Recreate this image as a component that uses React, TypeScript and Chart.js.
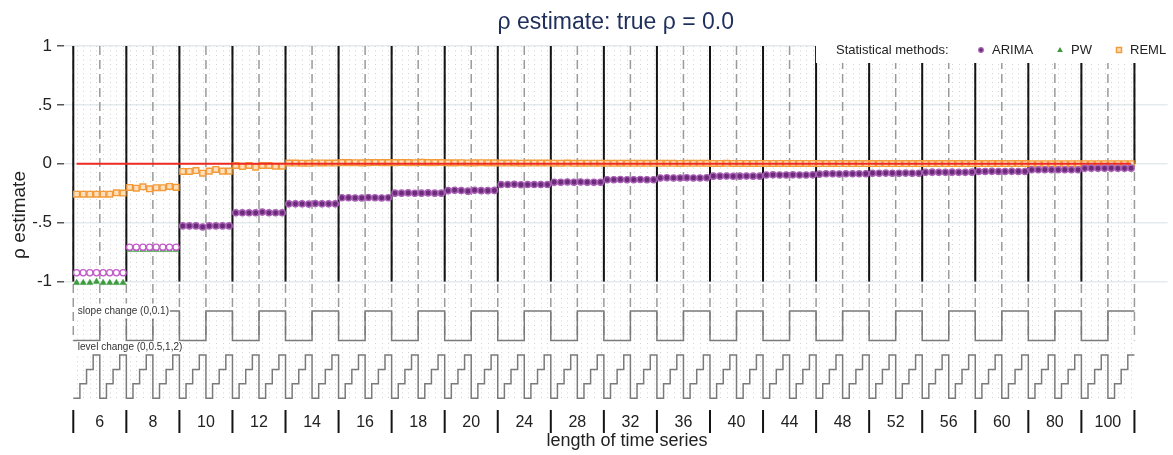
import React, { useEffect, useRef } from 'react';
import { Chart, registerables } from 'chart.js';

Chart.register(...registerables);

// ---------------- data ----------------
const groupSizes = [6, 8, 10, 12, 14, 16, 18, 20, 24, 28, 32, 36, 40, 44, 48, 52, 56, 60, 80, 100];
const levelChanges = [0, 0.5, 1, 2];
const slopeChanges = [0, 0.1];
const trueRho = 0.0;
const yTickValues = [-1, -0.5, 0, 0.5, 1];
const yTickLabels = ['-1', '-.5', '0', '.5', '1'];
const methodNames = ['ARIMA', 'PW', 'REML'];

const arimaByGroup = [
  [-0.925, -0.925, -0.925, -0.925, -0.925, -0.925, -0.925, -0.925],
  [-0.708, -0.708, -0.708, -0.708, -0.708, -0.708, -0.708, -0.708],
  [-0.527, -0.527, -0.527, -0.536, -0.527, -0.527, -0.527, -0.527],
  [-0.416, -0.416, -0.416, -0.416, -0.41, -0.416, -0.416, -0.416],
  [-0.34, -0.34, -0.34, -0.342, -0.338, -0.34, -0.34, -0.34],
  [-0.288, -0.288, -0.29, -0.29, -0.286, -0.288, -0.29, -0.288],
  [-0.249, -0.249, -0.247, -0.25, -0.249, -0.247, -0.249, -0.249],
  [-0.228, -0.224, -0.227, -0.232, -0.224, -0.228, -0.228, -0.226],
  [-0.176, -0.176, -0.174, -0.178, -0.176, -0.176, -0.176, -0.176],
  [-0.156, -0.156, -0.154, -0.156, -0.154, -0.156, -0.156, -0.156],
  [-0.135, -0.135, -0.133, -0.135, -0.135, -0.133, -0.135, -0.135],
  [-0.12, -0.118, -0.12, -0.12, -0.118, -0.12, -0.12, -0.118],
  [-0.105, -0.105, -0.104, -0.106, -0.105, -0.104, -0.105, -0.105],
  [-0.095, -0.094, -0.095, -0.095, -0.094, -0.095, -0.095, -0.094],
  [-0.088, -0.085, -0.085, -0.086, -0.085, -0.085, -0.085, -0.084],
  [-0.08, -0.08, -0.079, -0.08, -0.08, -0.079, -0.08, -0.08],
  [-0.072, -0.071, -0.072, -0.072, -0.071, -0.072, -0.072, -0.071],
  [-0.065, -0.065, -0.064, -0.065, -0.065, -0.064, -0.065, -0.065],
  [-0.051, -0.051, -0.05, -0.051, -0.051, -0.05, -0.051, -0.051],
  [-0.038, -0.037, -0.038, -0.038, -0.037, -0.038, -0.038, -0.037],
];

// PW is only distinguishable from ARIMA for n = 6 and n = 8
const pwByGroup = [
  [-1.01, -1.01, -1.01, -1.0, -1.01, -1.01, -1.01, -1.01],
  [-0.73, -0.73, -0.73, -0.73, -0.73, -0.73, -0.73, -0.73],
];

const remlByGroup = [
  [-0.258, -0.258, -0.258, -0.258, -0.258, -0.258, -0.246, -0.248],
  [-0.201, -0.207, -0.195, -0.212, -0.203, -0.203, -0.192, -0.2],
  [-0.065, -0.065, -0.057, -0.08, -0.062, -0.048, -0.062, -0.062],
  [-0.014, -0.022, -0.014, -0.028, -0.014, -0.014, -0.02, -0.02],
  [0.006, 0.006, 0.005, 0.004, 0.006, 0.007, 0.006, 0.006],
  [0.01, 0.01, 0.009, 0.008, 0.01, 0.011, 0.01, 0.01],
  [0.01, 0.011, 0.01, 0.009, 0.012, 0.01, 0.01, 0.011],
  [0.008, 0.008, 0.009, 0.007, 0.008, 0.009, 0.008, 0.008],
  [0.006, 0.006, 0.007, 0.005, 0.006, 0.006, 0.006, 0.006],
  [0.005, 0.005, 0.006, 0.004, 0.005, 0.005, 0.005, 0.005],
  [0.004, 0.004, 0.005, 0.004, 0.004, 0.004, 0.004, 0.004],
  [0.004, 0.004, 0.004, 0.003, 0.004, 0.004, 0.004, 0.004],
  [0.003, 0.003, 0.004, 0.003, 0.003, 0.003, 0.003, 0.003],
  [0.003, 0.003, 0.003, 0.003, 0.003, 0.003, 0.003, 0.003],
  [0.002, 0.002, 0.003, 0.002, 0.002, 0.002, 0.002, 0.002],
  [0.002, 0.002, 0.002, 0.002, 0.002, 0.002, 0.002, 0.002],
  [0.002, 0.002, 0.002, 0.002, 0.002, 0.002, 0.002, 0.002],
  [0.002, 0.002, 0.002, 0.002, 0.002, 0.002, 0.002, 0.002],
  [0.001, 0.001, 0.001, 0.001, 0.001, 0.001, 0.001, 0.001],
  [0.001, 0.001, 0.001, 0.001, 0.001, 0.001, 0.001, 0.001],
];

// ---------------- derived ----------------
const perGroup = levelChanges.length * slopeChanges.length; // 8
const nPoints = groupSizes.length * perGroup; // 160

// schematic bands below the estimate panel (y-units of the panel)
const slopeBand = { low: -1.5, high: -1.25 };
const levelBand = { base: -1.99, step: 0.1222 };

const toPoints = (groups: (number | null)[][]) => {
  const pts: { x: number; y: number | null }[] = [];
  for (let g = 0; g < groupSizes.length; g++) {
    const row = groups[g];
    for (let k = 0; k < perGroup; k++) {
      pts.push({ x: g * perGroup + k + 0.5, y: row ? row[k] : null });
    }
  }
  return pts;
};

const slopeIndex = (i: number) => Math.floor(i / levelChanges.length) % slopeChanges.length;
const levelIndex = (i: number) => i % levelChanges.length;

const slopeSteps = () => {
  const pts: { x: number; y: number }[] = [];
  for (let i = 0; i < nPoints; i++) {
    const s = slopeChanges[slopeIndex(i)] > 0 ? slopeBand.high : slopeBand.low;
    pts.push({ x: i, y: s });
  }
  pts.push({ x: nPoints, y: pts[pts.length - 1].y });
  return pts;
};
const levelSteps = () => {
  const pts: { x: number; y: number }[] = [];
  for (let i = 0; i < nPoints; i++) {
    pts.push({ x: i, y: levelBand.base + levelIndex(i) * levelBand.step });
  }
  pts.push({ x: nPoints, y: pts[pts.length - 1].y });
  return pts;
};

const FONT = "'Liberation Sans', Arial, Helvetica, sans-serif";
const COLORS = {
  arimaRing: '#c25cc8',
  arimaFill: '#6c2b7a',
  arimaEdge: '#a860b4',
  pw: '#3a9a3c',
  reml: '#f39a3a',
  remlFill: '#fde0bd',
  red: '#ee2a22',
  schematic: '#7a7a7a',
};

const drawMarker = (ctx: CanvasRenderingContext2D, kind: string, x: number, y: number) => {
  ctx.save();
  ctx.setLineDash([]);
  if (kind === 'ARIMA') {
    ctx.beginPath();
    ctx.arc(x, y, 2.3, 0, Math.PI * 2);
    ctx.fillStyle = COLORS.arimaFill;
    ctx.strokeStyle = COLORS.arimaEdge;
    ctx.lineWidth = 1.2;
    ctx.fill();
    ctx.stroke();
  } else if (kind === 'PW') {
    ctx.beginPath();
    ctx.moveTo(x, y - 3);
    ctx.lineTo(x + 2.8, y + 2);
    ctx.lineTo(x - 2.8, y + 2);
    ctx.closePath();
    ctx.fillStyle = COLORS.pw;
    ctx.fill();
  } else {
    ctx.fillStyle = COLORS.remlFill;
    ctx.strokeStyle = COLORS.reml;
    ctx.lineWidth = 1.5;
    ctx.fillRect(x - 2.5, y - 2.5, 5, 5);
    ctx.strokeRect(x - 2.5, y - 2.5, 5, 5);
  }
  ctx.restore();
};

const overlayPlugin = {
  id: 'overlay',
  beforeDatasetsDraw(chart: any) {
    const { ctx, chartArea } = chart;
    const x = chart.scales.x;
    const y = chart.scales.y;
    const top = y.getPixelForValue(1);
    ctx.save();
    // dotted lines at every condition
    ctx.strokeStyle = '#d2d2d2';
    ctx.lineWidth = 1;
    ctx.setLineDash([1, 3.5]);
    for (let i = 0; i < nPoints; i++) {
      const px = Math.round(x.getPixelForValue(i + 0.5)) + 0.5;
      ctx.beginPath();
      ctx.moveTo(px, top);
      ctx.lineTo(px, chartArea.bottom);
      ctx.stroke();
    }
    // dashed lines at every half group
    ctx.strokeStyle = '#9a9a9a';
    ctx.lineWidth = 1.5;
    ctx.setLineDash([9, 5]);
    for (let i = 0; i <= nPoints; i += levelChanges.length) {
      const px = x.getPixelForValue(i);
      ctx.beginPath();
      ctx.moveTo(px, top);
      ctx.lineTo(px, y.getPixelForValue(slopeBand.low));
      ctx.stroke();
    }
    // solid black group separators
    ctx.setLineDash([]);
    ctx.strokeStyle = '#141414';
    ctx.lineWidth = 2;
    for (let i = 0; i <= nPoints; i += perGroup) {
      const px = x.getPixelForValue(i);
      ctx.beginPath();
      ctx.moveTo(px, top);
      ctx.lineTo(px, y.getPixelForValue(i === nPoints ? 0 : -1));
      ctx.stroke();
    }
    ctx.restore();
  },
  afterDatasetsDraw(chart: any) {
    const { ctx } = chart;
    const x = chart.scales.x;
    const y = chart.scales.y;
    ctx.save();
    // schematic labels
    ctx.font = `10px ${FONT}`;
    ctx.textBaseline = 'middle';
    ctx.textAlign = 'left';
    const lab1 = 'slope change (' + slopeChanges.join(',') + ')';
    const lab2 = 'level change (' + levelChanges.join(',') + ')';
    const lx = x.getPixelForValue(0) + 4.5;
    const y1 = y.getPixelForValue(slopeBand.high);
    const w1 = ctx.measureText(lab1).width;
    ctx.fillStyle = '#ffffff';
    ctx.fillRect(lx - 1, y1 - 7.5, w1 + 2, 15);
    ctx.fillStyle = '#333333';
    ctx.fillText(lab1, lx, y1 + 0.5);
    const y2 = y.getPixelForValue(slopeBand.low) + 6.5;
    const w2 = ctx.measureText(lab2).width;
    ctx.fillStyle = '#ffffff';
    ctx.fillRect(lx - 1, y2 - 5.5, w2 + 2, 11.5);
    ctx.fillStyle = '#333333';
    ctx.fillText(lab2, lx, y2 + 0.5);

    // legend box
    ctx.fillStyle = '#ffffff';
    ctx.fillRect(816, 35, 1173 - 816, 28);
    ctx.font = `13px ${FONT}`;
    ctx.fillStyle = '#222222';
    ctx.textBaseline = 'middle';
    ctx.fillText('Statistical methods:', 836, 50);
    const legendPos = [
      { m: 981, t: 992 },
      { m: 1060, t: 1071 },
      { m: 1119, t: 1130 },
    ];
    methodNames.forEach((name, i) => {
      drawMarker(ctx, name, legendPos[i].m, 50);
      ctx.fillStyle = '#222222';
      ctx.fillText(name, legendPos[i].t, 50);
    });

    // x axis: group labels and separators
    ctx.strokeStyle = '#141414';
    ctx.lineWidth = 2;
    for (let i = 0; i <= nPoints; i += perGroup) {
      const px = x.getPixelForValue(i);
      ctx.beginPath();
      ctx.moveTo(px, 410);
      ctx.lineTo(px, 433);
      ctx.stroke();
    }
    ctx.font = `16px ${FONT}`;
    ctx.fillStyle = '#222222';
    ctx.textAlign = 'center';
    groupSizes.forEach((n, g) => {
      ctx.fillText(String(n), x.getPixelForValue(g * perGroup + perGroup / 2), 423);
    });
    ctx.font = `18px ${FONT}`;
    ctx.fillText('length of time series', 627, 441);

    // y axis title
    ctx.translate(20, 215);
    ctx.rotate(-Math.PI / 2);
    ctx.font = `19px ${FONT}`;
    ctx.fillText('ρ estimate', 0, 0);
    ctx.restore();
  },
};

export default function App() {
  const ref = useRef<HTMLCanvasElement>(null);
  useEffect(() => {
    if (!ref.current) return;
    Chart.defaults.font.family = FONT;
    const arimaPts = toPoints(arimaByGroup);
    const pwPts = toPoints(pwByGroup);
    const remlPts = toPoints(remlByGroup);
    const hollowGroups = pwByGroup.length * perGroup;
    const chart = new Chart(ref.current, {
      type: 'line',
      data: {
        datasets: [
          {
            label: 'ARIMA',
            data: arimaPts,
            showLine: false,
            pointStyle: 'circle',
            pointRadius: 3.1,
            pointBorderWidth: 1.4,
            pointBackgroundColor: (c: any) => (c.dataIndex < hollowGroups ? '#ffffff' : COLORS.arimaFill),
            pointBorderColor: (c: any) => (c.dataIndex < hollowGroups ? COLORS.arimaRing : COLORS.arimaEdge),
          },
          {
            label: 'PW',
            data: pwPts,
            showLine: false,
            pointStyle: 'triangle',
            pointRadius: 3.6,
            pointBorderWidth: 0.5,
            pointBackgroundColor: COLORS.pw,
            pointBorderColor: COLORS.pw,
          },
          {
            label: 'true rho',
            data: [
              { x: 0.5, y: trueRho },
              { x: nPoints - 0.5, y: trueRho },
            ],
            borderColor: COLORS.red,
            borderWidth: 2,
            pointRadius: 0,
          },
          {
            label: 'REML',
            data: remlPts,
            showLine: false,
            pointStyle: 'rect',
            pointRadius: 4,
            pointBorderWidth: 1.4,
            pointBackgroundColor: COLORS.remlFill,
            pointBorderColor: COLORS.reml,
          },
          {
            label: 'slope change',
            data: slopeSteps(),
            borderColor: COLORS.schematic,
            borderWidth: 1.5,
            pointRadius: 0,
            stepped: 'before',
          },
          {
            label: 'level change',
            data: levelSteps(),
            borderColor: COLORS.schematic,
            borderWidth: 1.5,
            pointRadius: 0,
            stepped: 'before',
          },
        ],
      },
      options: {
        animation: false,
        responsive: false,
        devicePixelRatio: 1,
        layout: { padding: { top: 0, right: 0, bottom: 55.6, left: 0 } },
        plugins: {
          legend: { display: false },
          tooltip: { enabled: false },
          title: {
            display: true,
            fullSize: false,
            text: `ρ estimate: true ρ = ${trueRho.toFixed(1)}`,
            color: '#1f2f5c',
            font: { size: 23, weight: 'normal', family: FONT },
            padding: { top: 9, bottom: 9.4 },
          },
        },
        scales: {
          x: {
            type: 'linear',
            display: false,
            min: -1.4,
            max: 165,
          },
          y: {
            type: 'linear',
            min: -2,
            max: 1,
            afterBuildTicks: (scale: any) => {
              scale.ticks = yTickValues.map((v) => ({ value: v }));
            },
            afterFit: (scale: any) => {
              scale.width = 64;
            },
            border: { display: false },
            grid: {
              color: '#e3ebec',
              lineWidth: 1.5,
              tickColor: '#555555',
              tickLength: 7,
            },
            ticks: {
              padding: 5,
              color: '#222222',
              font: { size: 17, family: FONT },
              callback: (v: any) => {
                const idx = yTickValues.indexOf(Number(v));
                return idx >= 0 ? yTickLabels[idx] : '';
              },
            },
          },
        },
      },
      plugins: [overlayPlugin],
    } as any);
    return () => chart.destroy();
  }, []);
  return (
    <div style={{ position: 'fixed', left: 0, top: 0, width: 1173, height: 455, background: '#ffffff' }}>
      <canvas ref={ref} width={1173} height={455} style={{ width: 1173, height: 455, display: 'block' }} />
    </div>
  );
}
